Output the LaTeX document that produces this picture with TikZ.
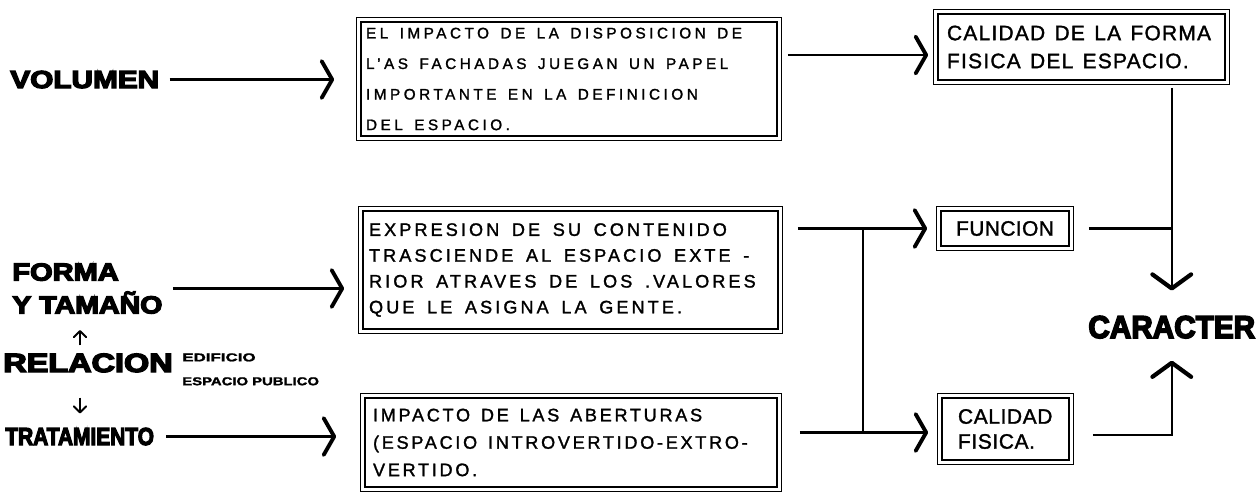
\documentclass[tikz,border=0pt]{standalone}
\usepackage{fontspec}
\setmainfont{Liberation Sans}[FakeBold=1.5]
\newfontfamily\heavyfont{Liberation Sans Bold}[FakeBold=5]
\usetikzlibrary{arrows.meta,fit,calc}

\tikzset{
  box/.style={draw, line width=1.3pt, inner ysep=0pt, align=left},
  wsp/.style={execute at begin node={\spaceskip #1\relax}},
  frame/.style={draw, line width=0.5pt, inner sep=1.9pt, fit=#1},
  heavy/.style={font=\heavyfont\fontsize{14}{18.7}\selectfont, inner sep=0pt, anchor=base west, align=left},
  arr/.style={line width=1.7pt, -{Straight Barb[length=6pt,width=21pt,line width=2.2pt,round]}},
  varr/.style={line width=1.4pt, -{Straight Barb[length=8pt,width=22pt,line width=2.4pt,round]}},
  sarr/.style={line width=1.1pt, -{Straight Barb[length=3.5pt,width=7pt,line width=1.1pt,round]}},
  link/.style={line width=1.4pt}
}

\begin{document}
\begin{tikzpicture}[x=0.02cm, y=-0.02cm]
\useasboundingbox (0,0) rectangle (1260,491);

% middle boxes
\node[box, wsp=0.75em, minimum width=8.32cm, minimum height=2.28cm, text width=8.12cm, inner xsep=0.1cm,
  font={\fontsize{8.7}{17.4}\selectfont\addfontfeature{LetterSpace=23}}] (imp) at (569,79)
  {EL IMPACTO DE LA DISPOSICION DE\\L'AS FACHADAS JUEGAN UN PAPEL\\IMPORTANTE EN LA DEFINICION\\DEL ESPACIO.};
\node[box, wsp=0.7em, minimum width=8.3cm, minimum height=2.36cm, text width=8.06cm, inner xsep=0.12cm,
  font={\fontsize{10.3}{14.7}\selectfont\addfontfeature{LetterSpace=17}}] (exp) at (570.5,270)
  {EXPRESION DE SU CONTENIDO\\TRASCIENDE AL ESPACIO EXTE -\\RIOR ATRAVES DE LOS .VALORES\\QUE LE ASIGNA LA GENTE.};
\node[box, wsp=0.6em, minimum width=8.24cm, minimum height=1.78cm, text width=7.92cm, inner xsep=0.16cm,
  font={\fontsize{10.3}{15.6}\selectfont\addfontfeature{LetterSpace=15}}] (abe) at (571,442.5)
  {IMPACTO DE LAS ABERTURAS\\(ESPACIO INTROVERTIDO-EXTRO-\\VERTIDO.};

% right boxes
\node[box, wsp=0.45em, minimum width=5.74cm, minimum height=1.32cm, text width=5.38cm, inner xsep=0.18cm,
  font={\fontsize{11.9}{15.9}\selectfont\addfontfeature{LetterSpace=6}}] (fm) at (1081.5,47)
  {CALIDAD DE LA FORMA\\FISICA DEL ESPACIO.};
\node[box, align=center, minimum width=2.56cm, minimum height=0.7cm,
  font={\fontsize{11.9}{14}\selectfont\addfontfeature{LetterSpace=2}}] (fun) at (1005,228.5) {FUNCION};
\node[box, minimum width=2.54cm, minimum height=1.24cm, text width=1.9cm, inner xsep=0.32cm,
  font={\fontsize{11.9}{14.2}\selectfont\addfontfeature{LetterSpace=3}}] (cal) at (1005.5,429)
  {CALIDAD\\FISICA.};

% outer thin frames
\node[frame=(imp)] (impf) {};
\node[frame=(exp)] (expf) {};
\node[frame=(abe)] (abef) {};
\node[frame=(fm)] (fmf) {};
\node[frame=(fun)] (funf) {};
\node[frame=(cal)] (calf) {};

% labels
\node[heavy] (vol) at (10,88) {\scalebox{1.21}[1]{VOLUMEN}};
\node[heavy, anchor=north west] (form) at (12,263) {\scalebox{1.18}[1]{FORMA}\\\scalebox{1.16}[1]{Y TAMAÑO}};
\node[heavy, font=\heavyfont\fontsize{15}{18}\selectfont] (rel) at (3,372) {\scalebox{1.23}[1]{RELACION}};
\node[anchor=north west, inner sep=0pt, align=left, font=\bfseries\fontsize{6.5}{13.6}\selectfont] (edif) at (182,353)
  {\scalebox{1.48}[1]{EDIFICIO}\\\scalebox{1.3}[1]{ESPACIO PUBLICO}};
\node[heavy] (tra) at (5,445) {\scalebox{0.85}[1]{TRATAMIENTO}};
\node[heavy, font=\heavyfont\fontsize{18}{20}\selectfont] (car) at (1088,338) {\scalebox{0.94}[1]{CARACTER}};

% arrows left
\draw[arr, shorten <=0.2cm, shorten >=0.44cm] (vol.east) -- (vol.east -| impf.west);
\draw[arr, shorten <=0.2cm, shorten >=0.28cm] (form.east) -- (form.east -| expf.west);
\draw[arr, shorten <=0.24cm, shorten >=0.48cm] (tra.east) -- (tra.east -| abef.west);
\draw[sarr, shorten <=0.16cm, shorten >=0.32cm] ([xshift=-0.16cm]rel.north) -- ([xshift=-0.16cm]rel.north |- form.south);
\draw[sarr, shorten <=0.5cm, shorten >=0.28cm] ([xshift=-0.16cm]rel.south) -- ([xshift=-0.16cm]rel.south |- tra.north);

% arrows right
\draw[arr, shorten <=0.12cm, shorten >=0.1cm] ([yshift=-0.16cm]impf.east |- fmf.west) -- ([yshift=-0.16cm]fmf.west);
\draw[arr, shorten <=0.3cm, shorten >=0.18cm] (expf.east |- funf.west) -- (funf.west);
\draw[arr, shorten <=0.36cm, shorten >=0.18cm] ([yshift=-0.07cm]abef.east |- calf.west) -- ([yshift=-0.07cm]calf.west);
\coordinate (j1) at (863,228.5);
\coordinate (j2) at (863,432.5);
\draw[link] (j1) -- (j2);

% into caracter
\draw[varr, shorten <=0.06cm, shorten >=0.5cm] (car.north |- fmf.south) -- (car.north);
\draw[link, shorten <=0.3cm] (funf.east) -- (funf.east -| car.north);
\draw[varr, shorten <=0.38cm, shorten >=0.44cm] ([yshift=-0.12cm]calf.east) -| (car.south);
\end{tikzpicture}
\end{document}
